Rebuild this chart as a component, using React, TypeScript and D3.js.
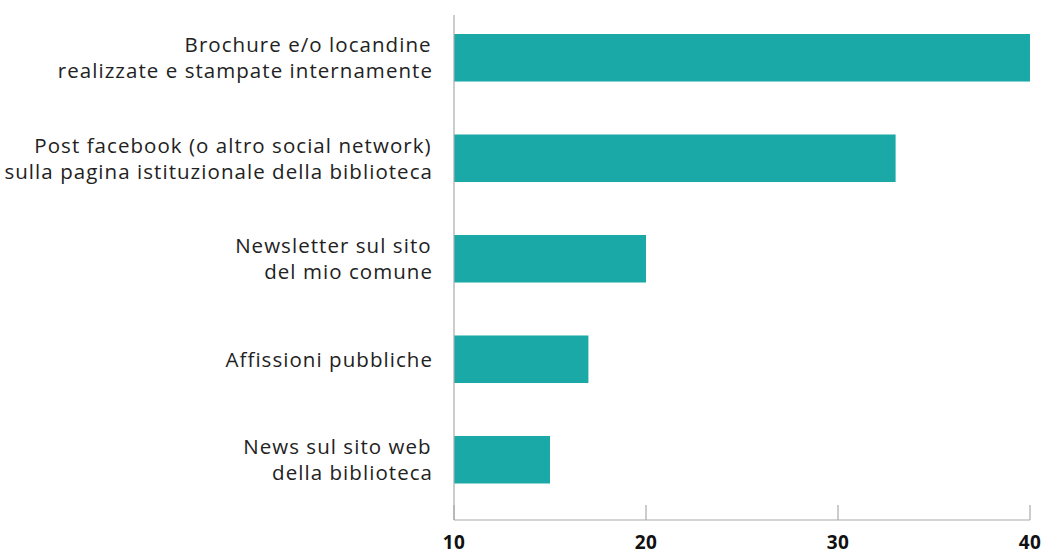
import React from "react";
import * as d3 from "d3";

const categories: string[][] = [
  ["Brochure e/o locandine ", "realizzate e stampate internamente"],
  ["Post facebook (o altro social network) ", "sulla pagina istituzionale della biblioteca"],
  ["Newsletter sul sito ", "del mio comune"],
  ["Affissioni pubbliche"],
  ["News sul sito web ", "della biblioteca"],
];
const values: number[] = [40, 33, 20, 17, 15];
const ticks: number[] = [10, 20, 30, 40];

const W = 1046;
const H = 554;

export default function App() {
  const x = d3.scaleLinear().domain([10, 40]).range([454, 1030]);
  const y = d3
    .scaleBand<number>()
    .domain(d3.range(values.length))
    .range([34, 483.5])
    .paddingInner(0.527)
    .paddingOuter(0);
  const axisTop = 15;
  const axisY = 520;
  const font = "'Open Sans', sans-serif";
  return (
    <svg width={W} height={H} style={{ position: "absolute", left: 0, top: 0 }}>
      {values.map((v, i) => (
        <rect
          key={i}
          x={x(10)}
          y={y(i)!}
          width={x(v) - x(10)}
          height={y.bandwidth()}
          fill="#1aa9a6"
        />
      ))}
      {categories.map((lines, i) => {
        const cy = y(i)! + y.bandwidth() / 2;
        const lh = 26;
        const start = cy - ((lines.length - 1) * lh) / 2;
        return (
          <text
            key={i}
            textAnchor="end"
            fontFamily={font}
            fontSize={20.5}
            letterSpacing={1.05}
            fill="#222"
          >
            {lines.map((l, j) => (
              <tspan
                key={j}
                x={433 + (l.endsWith(" ") ? 5 : 0)}
                y={start + j * lh}
                dy="0.36em"
                style={{ whiteSpace: "pre" }}
              >
                {l}
              </tspan>
            ))}
          </text>
        );
      })}
      <line x1={x(10)} x2={x(10)} y1={axisTop} y2={axisY} stroke="#aaa" strokeWidth={1.2} />
      <line x1={x(10)} x2={x(40)} y1={axisY} y2={axisY} stroke="#aaa" strokeWidth={1.2} />
      {ticks.map((t) => (
        <g key={t}>
          <line x1={x(t)} x2={x(t)} y1={axisY - 15} y2={axisY} stroke="#aaa" strokeWidth={1.2} />
          <text
            x={x(t)}
            y={axisY + 22}
            dy="0.36em"
            textAnchor="middle"
            fontFamily={font}
            fontWeight="bold"
            fontSize={19}
            letterSpacing={0.5}
            fill="#111"
          >
            {t}
          </text>
        </g>
      ))}
    </svg>
  );
}
